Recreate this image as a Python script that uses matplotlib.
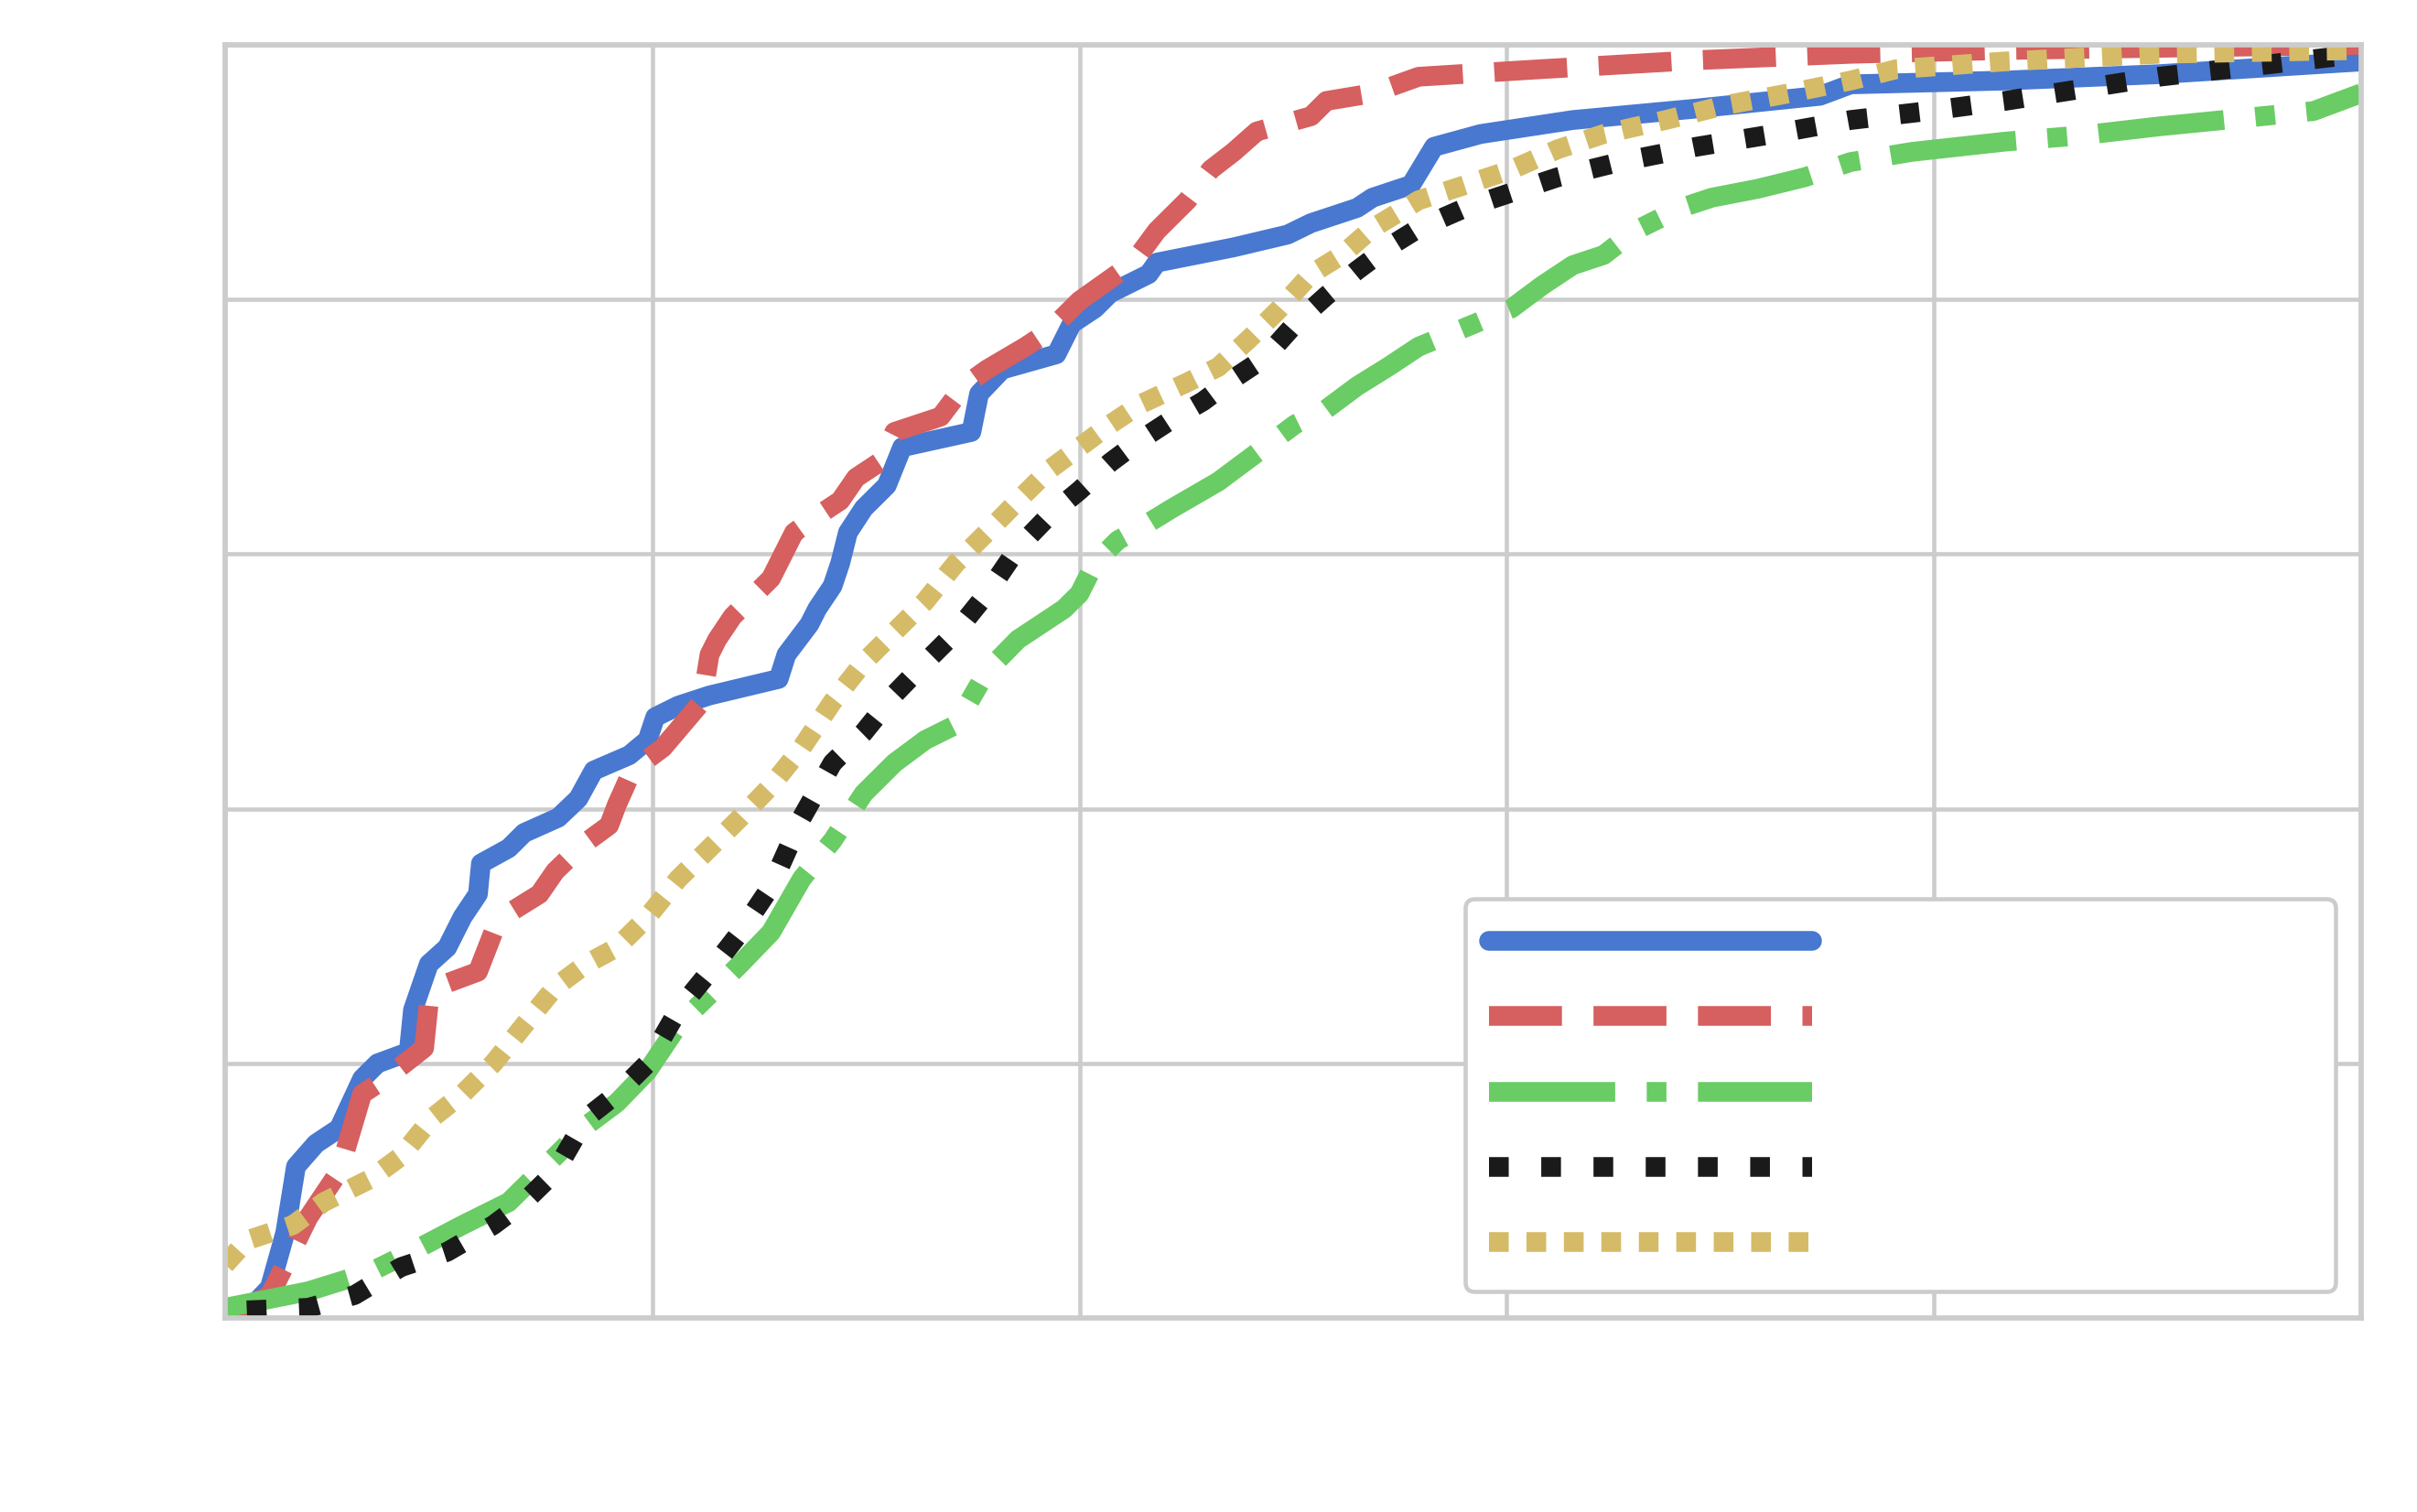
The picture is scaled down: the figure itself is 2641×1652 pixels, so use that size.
import matplotlib
matplotlib.use("Agg")
import matplotlib.pyplot as plt
import seaborn as sns

sns.set_theme(style="whitegrid", palette="muted", context="poster")

# series (x in grid units, y as cumulative share)
blue_x = [0.043, 0.105, 0.141, 0.166, 0.213, 0.267, 0.321, 0.357, 0.430, 0.440, 0.477, 0.520,
          0.556, 0.592, 0.599, 0.664, 0.700, 0.780, 0.827, 0.863, 0.946, 0.989, 1.007, 1.061,
          1.134, 1.296, 1.314, 1.368, 1.386, 1.422, 1.440, 1.458, 1.495, 1.549, 1.585, 1.747,
          1.765, 1.819, 1.946, 1.982, 2.036, 2.072, 2.162, 2.181, 2.361, 2.487, 2.542, 2.650,
          2.686, 2.776, 2.830, 2.939, 3.155, 3.444, 3.733, 3.805, 4.166, 4.527, 5.0]
blue_y = [0.002, 0.024, 0.067, 0.119, 0.137, 0.149, 0.188, 0.200, 0.209, 0.242, 0.278, 0.291,
          0.315, 0.333, 0.357, 0.369, 0.381, 0.393, 0.408, 0.430, 0.442, 0.454, 0.472, 0.481,
          0.489, 0.502, 0.521, 0.545, 0.557, 0.575, 0.593, 0.617, 0.636, 0.654, 0.684, 0.696,
          0.726, 0.745, 0.757, 0.781, 0.793, 0.805, 0.820, 0.829, 0.841, 0.851, 0.860, 0.872,
          0.880, 0.890, 0.920, 0.930, 0.941, 0.950, 0.960, 0.969, 0.972, 0.977, 0.987]

red_x = [0.014, 0.105, 0.141, 0.195, 0.231, 0.267, 0.321, 0.375, 0.466, 0.477, 0.520, 0.592,
         0.628, 0.664, 0.736, 0.773, 0.838, 0.899, 0.917, 0.953, 1.025, 1.116, 1.134, 1.152,
         1.188, 1.242, 1.278, 1.296, 1.332, 1.386, 1.440, 1.477, 1.531, 1.567, 1.675, 1.729,
         1.783, 1.874, 1.928, 2.000, 2.126, 2.181, 2.253, 2.307, 2.361, 2.415, 2.542, 2.578,
         2.686, 2.794, 3.083, 3.444, 3.805, 4.166, 5.0]
red_y = [0.002, 0.018, 0.042, 0.079, 0.097, 0.115, 0.176, 0.188, 0.212, 0.248, 0.263, 0.272,
         0.303, 0.318, 0.333, 0.351, 0.372, 0.387, 0.403, 0.430, 0.448, 0.484, 0.521, 0.533,
         0.551, 0.569, 0.581, 0.593, 0.617, 0.630, 0.642, 0.660, 0.672, 0.696, 0.708, 0.732,
         0.745, 0.763, 0.775, 0.799, 0.829, 0.854, 0.878, 0.902, 0.916, 0.932, 0.944, 0.956,
         0.962, 0.975, 0.981, 0.988, 0.993, 0.996, 1.0]

green_x = [0.0, 0.195, 0.339, 0.448, 0.556, 0.664, 0.773, 0.845, 0.917, 0.989, 1.061, 1.134,
           1.206, 1.278, 1.350, 1.422, 1.495, 1.567, 1.639, 1.711, 1.783, 1.856, 1.964, 2.000,
           2.036, 2.090, 2.144, 2.217, 2.325, 2.433, 2.505, 2.578, 2.650, 2.722, 2.794, 2.903,
           3.011, 3.083, 3.155, 3.227, 3.300, 3.408, 3.480, 3.588, 3.697, 3.805, 3.949, 4.166,
           4.347, 4.527, 4.708, 4.888, 5.0]
green_y = [0.008, 0.021, 0.036, 0.054, 0.073, 0.091, 0.127, 0.151, 0.169, 0.194, 0.230, 0.254,
           0.278, 0.303, 0.345, 0.375, 0.412, 0.436, 0.454, 0.466, 0.508, 0.533, 0.557, 0.569,
           0.593, 0.611, 0.621, 0.636, 0.657, 0.684, 0.702, 0.714, 0.732, 0.747, 0.763, 0.778,
           0.793, 0.811, 0.827, 0.835, 0.854, 0.872, 0.880, 0.887, 0.896, 0.908, 0.916, 0.924,
           0.929, 0.936, 0.942, 0.948, 0.962]

black_x = [0.051, 0.195, 0.303, 0.412, 0.520, 0.628, 0.700, 0.773, 0.845, 0.917, 0.989, 1.061,
           1.134, 1.206, 1.278, 1.350, 1.422, 1.495, 1.567, 1.639, 1.711, 1.783, 1.856, 1.928,
           2.000, 2.072, 2.144, 2.217, 2.289, 2.361, 2.433, 2.505, 2.578, 2.650, 2.722, 2.794,
           2.903, 3.011, 3.119, 3.264, 3.444, 3.625, 3.805, 3.986, 4.166, 4.527, 5.0]
black_y = [0.006, 0.008, 0.018, 0.040, 0.052, 0.073, 0.091, 0.115, 0.157, 0.176, 0.200, 0.242,
           0.272, 0.303, 0.339, 0.393, 0.436, 0.460, 0.490, 0.515, 0.539, 0.569, 0.605, 0.630,
           0.650, 0.672, 0.690, 0.706, 0.720, 0.738, 0.754, 0.781, 0.803, 0.823, 0.841, 0.856,
           0.872, 0.884, 0.896, 0.908, 0.920, 0.930, 0.941, 0.948, 0.956, 0.975, 0.993]

yellow_x = [0.0, 0.051, 0.159, 0.231, 0.339, 0.412, 0.484, 0.556, 0.628, 0.700, 0.773, 0.845,
            0.917, 0.989, 1.061, 1.134, 1.206, 1.278, 1.350, 1.422, 1.495, 1.567, 1.639, 1.711,
            1.783, 1.856, 1.928, 2.000, 2.072, 2.144, 2.253, 2.325, 2.397, 2.469, 2.542, 2.614,
            2.686, 2.794, 2.903, 3.011, 3.119, 3.227, 3.372, 3.516, 3.661, 3.805, 3.913, 4.166,
            4.527, 5.0]
yellow_y = [0.042, 0.061, 0.073, 0.091, 0.109, 0.127, 0.157, 0.176, 0.200, 0.230, 0.260, 0.278,
            0.291, 0.315, 0.345, 0.369, 0.393, 0.418, 0.448, 0.484, 0.515, 0.539, 0.563, 0.593,
            0.617, 0.642, 0.666, 0.684, 0.702, 0.718, 0.735, 0.747, 0.769, 0.793, 0.820, 0.835,
            0.856, 0.878, 0.890, 0.902, 0.918, 0.930, 0.941, 0.953, 0.962, 0.972, 0.981, 0.987,
            0.993, 0.996]

labels = ["A", "B", "C", "D", "E"]
x_ticks = [0, 1, 2, 3, 4, 5]
y_ticks = [0.0, 0.2, 0.4, 0.6, 0.8, 1.0]

fig, ax = plt.subplots(figsize=(2641 / 165, 1652 / 165), dpi=165)
fig.subplots_adjust(left=0.0931, right=0.9769, bottom=0.1283, top=0.9703)

lw = 9.4
ax.plot(blue_x, blue_y, color="#4878d0", lw=lw, linestyle="-", label=labels[0])
ax.plot(red_x, red_y, color="#d65f5f", lw=lw, linestyle="--", label=labels[1])
ax.plot(green_x, green_y, color="#6acc64", lw=lw, linestyle="-.", label=labels[2])
ax.plot(black_x, black_y, color="#1a1a1a", lw=lw, linestyle=":", label=labels[3])
ax.plot(yellow_x, yellow_y, color="#d5bb67", lw=lw, linestyle=(0, (1, 0.9)), label=labels[4])

ax.set_xlim(0, 5)
ax.set_ylim(0, 1)
ax.set_xticks(x_ticks)
ax.set_yticks(y_ticks)
ax.tick_params(colors="white", labelcolor="white")

leg = ax.legend(loc="lower left", bbox_to_anchor=(0.5806, 0.0208, 0.4074, 0.31),
                mode="expand", borderaxespad=0, handlelength=7.0, fontsize=22,
                labelspacing=0.68, borderpad=0.52, frameon=True, framealpha=1)
for t in leg.get_texts():
    t.set_color("white")

fig.savefig("out.png", dpi=165)
